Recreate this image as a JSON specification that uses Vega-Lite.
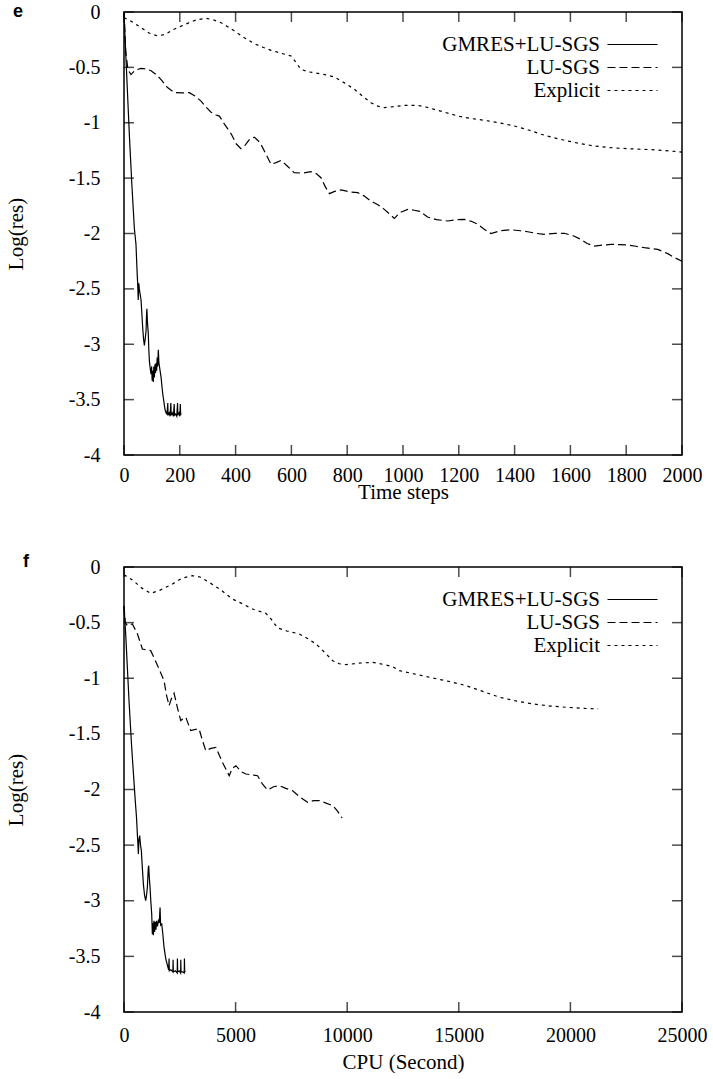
{
"$schema": "https://vega.github.io/schema/vega-lite/v6.json",
"padding": {"left": 4, "top": 1, "right": 0, "bottom": 0},
"background": "white",
"spacing": 49,
"config": {
  "font": "Liberation Serif",
  "view": {"stroke": "black", "strokeWidth": 1.5},
  "axis": {"grid": false, "domain": false, "ticks": false, "tickSize": 0, "labelColor": "black", "titleColor": "black", "labelFontSize": 20, "titleFontSize": 21, "titleFontWeight": "normal", "labelFont": "Liberation Serif", "titleFont": "Liberation Serif", "labelOverlap": false},
  "axisY": {"labelPadding": 24, "titlePadding": 42},
  "axisX": {"labelPadding": 10, "titlePadding": -4, "labelFlush": false},
  "legend": {"orient": "top-right", "offset": 22, "padding": 0, "labelFontSize": 21, "labelFont": "Liberation Serif", "labelColor": "black", "labelAlign": "right", "labelOffset": -43, "symbolType": "M-3,0H3", "symbolSize": 278, "symbolStrokeWidth": 1.2, "symbolStrokeColor": "black", "symbolFillColor": "transparent", "rowPadding": 1},
  "title": {"font": "Liberation Sans", "fontSize": 18, "fontWeight": "bold", "anchor": "start", "frame": "group", "color": "black", "baseline": "alphabetic"}
},
"datasets": {
  "stepTicks": [{"v":0},{"v":200},{"v":400},{"v":600},{"v":800},{"v":1000},{"v":1200},{"v":1400},{"v":1600},{"v":1800},{"v":2000}],
  "cpuTicks": [{"v":0},{"v":5000},{"v":10000},{"v":15000},{"v":20000},{"v":25000}],
  "resTicks": [{"v":-4},{"v":-3.5},{"v":-3},{"v":-2.5},{"v":-2},{"v":-1.5},{"v":-1},{"v":-0.5},{"v":0}],
  "top": [
    {"method":"GMRES+LU-SGS","step":0,"res":0},{"method":"GMRES+LU-SGS","step":5,"res":-0.3},{"method":"GMRES+LU-SGS","step":12,"res":-0.7},{"method":"GMRES+LU-SGS","step":20,"res":-1.15},{"method":"GMRES+LU-SGS","step":28,"res":-1.55},{"method":"GMRES+LU-SGS","step":37,"res":-1.95},{"method":"GMRES+LU-SGS","step":43,"res":-2.1},{"method":"GMRES+LU-SGS","step":47,"res":-2.35},{"method":"GMRES+LU-SGS","step":49,"res":-2.45},{"method":"GMRES+LU-SGS","step":51,"res":-2.6},{"method":"GMRES+LU-SGS","step":53,"res":-2.45},{"method":"GMRES+LU-SGS","step":55,"res":-2.5},{"method":"GMRES+LU-SGS","step":58,"res":-2.55},{"method":"GMRES+LU-SGS","step":61,"res":-2.6},{"method":"GMRES+LU-SGS","step":64,"res":-2.72},{"method":"GMRES+LU-SGS","step":67,"res":-2.85},{"method":"GMRES+LU-SGS","step":70,"res":-2.95},{"method":"GMRES+LU-SGS","step":73,"res":-3.01},{"method":"GMRES+LU-SGS","step":76,"res":-2.95},{"method":"GMRES+LU-SGS","step":79,"res":-2.88},{"method":"GMRES+LU-SGS","step":81,"res":-2.72},{"method":"GMRES+LU-SGS","step":82,"res":-2.68},{"method":"GMRES+LU-SGS","step":84,"res":-2.8},{"method":"GMRES+LU-SGS","step":87,"res":-2.9},{"method":"GMRES+LU-SGS","step":89,"res":-3.05},{"method":"GMRES+LU-SGS","step":91,"res":-3.15},{"method":"GMRES+LU-SGS","step":94,"res":-3.22},{"method":"GMRES+LU-SGS","step":97,"res":-3.27},{"method":"GMRES+LU-SGS","step":99,"res":-3.2},{"method":"GMRES+LU-SGS","step":101,"res":-3.33},{"method":"GMRES+LU-SGS","step":103,"res":-3.24},{"method":"GMRES+LU-SGS","step":105,"res":-3.34},{"method":"GMRES+LU-SGS","step":107,"res":-3.2},{"method":"GMRES+LU-SGS","step":109,"res":-3.3},{"method":"GMRES+LU-SGS","step":111,"res":-3.18},{"method":"GMRES+LU-SGS","step":113,"res":-3.26},{"method":"GMRES+LU-SGS","step":115,"res":-3.17},{"method":"GMRES+LU-SGS","step":117,"res":-3.24},{"method":"GMRES+LU-SGS","step":119,"res":-3.12},{"method":"GMRES+LU-SGS","step":121,"res":-3.2},{"method":"GMRES+LU-SGS","step":123,"res":-3.05},{"method":"GMRES+LU-SGS","step":125,"res":-3.16},{"method":"GMRES+LU-SGS","step":127,"res":-3.2},{"method":"GMRES+LU-SGS","step":130,"res":-3.25},{"method":"GMRES+LU-SGS","step":133,"res":-3.3},{"method":"GMRES+LU-SGS","step":136,"res":-3.38},{"method":"GMRES+LU-SGS","step":139,"res":-3.45},{"method":"GMRES+LU-SGS","step":143,"res":-3.52},{"method":"GMRES+LU-SGS","step":147,"res":-3.59},{"method":"GMRES+LU-SGS","step":151,"res":-3.62},{"method":"GMRES+LU-SGS","step":154,"res":-3.63},{"method":"GMRES+LU-SGS","step":157,"res":-3.53},{"method":"GMRES+LU-SGS","step":158,"res":-3.64},{"method":"GMRES+LU-SGS","step":162,"res":-3.62},{"method":"GMRES+LU-SGS","step":165,"res":-3.65},{"method":"GMRES+LU-SGS","step":168,"res":-3.53},{"method":"GMRES+LU-SGS","step":169,"res":-3.64},{"method":"GMRES+LU-SGS","step":173,"res":-3.62},{"method":"GMRES+LU-SGS","step":177,"res":-3.65},{"method":"GMRES+LU-SGS","step":180,"res":-3.54},{"method":"GMRES+LU-SGS","step":181,"res":-3.64},{"method":"GMRES+LU-SGS","step":185,"res":-3.63},{"method":"GMRES+LU-SGS","step":189,"res":-3.65},{"method":"GMRES+LU-SGS","step":192,"res":-3.53},{"method":"GMRES+LU-SGS","step":193,"res":-3.64},{"method":"GMRES+LU-SGS","step":197,"res":-3.62},{"method":"GMRES+LU-SGS","step":200,"res":-3.65},{"method":"GMRES+LU-SGS","step":202,"res":-3.54},{"method":"GMRES+LU-SGS","step":203,"res":-3.64},{"method":"GMRES+LU-SGS","step":204,"res":-3.62},
    {"method":"LU-SGS","step":0,"res":0},{"method":"LU-SGS","step":6,"res":-0.35},{"method":"LU-SGS","step":14,"res":-0.52},{"method":"LU-SGS","step":25,"res":-0.565},{"method":"LU-SGS","step":40,"res":-0.525},{"method":"LU-SGS","step":61,"res":-0.51},{"method":"LU-SGS","step":80,"res":-0.515},{"method":"LU-SGS","step":97,"res":-0.53},{"method":"LU-SGS","step":115,"res":-0.565},{"method":"LU-SGS","step":133,"res":-0.61},{"method":"LU-SGS","step":155,"res":-0.68},{"method":"LU-SGS","step":180,"res":-0.728},{"method":"LU-SGS","step":210,"res":-0.73},{"method":"LU-SGS","step":234,"res":-0.728},{"method":"LU-SGS","step":255,"res":-0.76},{"method":"LU-SGS","step":276,"res":-0.805},{"method":"LU-SGS","step":295,"res":-0.86},{"method":"LU-SGS","step":312,"res":-0.905},{"method":"LU-SGS","step":330,"res":-0.93},{"method":"LU-SGS","step":342,"res":-0.94},{"method":"LU-SGS","step":362,"res":-1.02},{"method":"LU-SGS","step":384,"res":-1.1},{"method":"LU-SGS","step":402,"res":-1.19},{"method":"LU-SGS","step":419,"res":-1.234},{"method":"LU-SGS","step":435,"res":-1.2},{"method":"LU-SGS","step":450,"res":-1.15},{"method":"LU-SGS","step":467,"res":-1.13},{"method":"LU-SGS","step":480,"res":-1.16},{"method":"LU-SGS","step":491,"res":-1.195},{"method":"LU-SGS","step":510,"res":-1.29},{"method":"LU-SGS","step":527,"res":-1.375},{"method":"LU-SGS","step":545,"res":-1.36},{"method":"LU-SGS","step":563,"res":-1.34},{"method":"LU-SGS","step":585,"res":-1.39},{"method":"LU-SGS","step":610,"res":-1.45},{"method":"LU-SGS","step":640,"res":-1.455},{"method":"LU-SGS","step":670,"res":-1.442},{"method":"LU-SGS","step":690,"res":-1.46},{"method":"LU-SGS","step":706,"res":-1.496},{"method":"LU-SGS","step":720,"res":-1.57},{"method":"LU-SGS","step":736,"res":-1.64},{"method":"LU-SGS","step":755,"res":-1.62},{"method":"LU-SGS","step":778,"res":-1.607},{"method":"LU-SGS","step":810,"res":-1.625},{"method":"LU-SGS","step":838,"res":-1.631},{"method":"LU-SGS","step":860,"res":-1.66},{"method":"LU-SGS","step":885,"res":-1.707},{"method":"LU-SGS","step":910,"res":-1.74},{"method":"LU-SGS","step":933,"res":-1.782},{"method":"LU-SGS","step":950,"res":-1.82},{"method":"LU-SGS","step":969,"res":-1.863},{"method":"LU-SGS","step":990,"res":-1.81},{"method":"LU-SGS","step":1017,"res":-1.782},{"method":"LU-SGS","step":1040,"res":-1.79},{"method":"LU-SGS","step":1060,"res":-1.8},{"method":"LU-SGS","step":1088,"res":-1.851},{"method":"LU-SGS","step":1120,"res":-1.875},{"method":"LU-SGS","step":1160,"res":-1.887},{"method":"LU-SGS","step":1190,"res":-1.875},{"method":"LU-SGS","step":1220,"res":-1.872},{"method":"LU-SGS","step":1245,"res":-1.89},{"method":"LU-SGS","step":1268,"res":-1.917},{"method":"LU-SGS","step":1290,"res":-1.96},{"method":"LU-SGS","step":1315,"res":-2.0},{"method":"LU-SGS","step":1350,"res":-1.975},{"method":"LU-SGS","step":1387,"res":-1.966},{"method":"LU-SGS","step":1420,"res":-1.975},{"method":"LU-SGS","step":1447,"res":-1.984},{"method":"LU-SGS","step":1480,"res":-2.0},{"method":"LU-SGS","step":1506,"res":-2.007},{"method":"LU-SGS","step":1545,"res":-1.998},{"method":"LU-SGS","step":1578,"res":-1.998},{"method":"LU-SGS","step":1610,"res":-2.02},{"method":"LU-SGS","step":1638,"res":-2.053},{"method":"LU-SGS","step":1660,"res":-2.09},{"method":"LU-SGS","step":1686,"res":-2.113},{"method":"LU-SGS","step":1715,"res":-2.105},{"method":"LU-SGS","step":1746,"res":-2.098},{"method":"LU-SGS","step":1775,"res":-2.1},{"method":"LU-SGS","step":1805,"res":-2.104},{"method":"LU-SGS","step":1835,"res":-2.115},{"method":"LU-SGS","step":1865,"res":-2.128},{"method":"LU-SGS","step":1913,"res":-2.143},{"method":"LU-SGS","step":1949,"res":-2.182},{"method":"LU-SGS","step":1975,"res":-2.22},{"method":"LU-SGS","step":2000,"res":-2.25},
    {"method":"Explicit","step":0,"res":-0.05},{"method":"Explicit","step":30,"res":-0.09},{"method":"Explicit","step":60,"res":-0.14},{"method":"Explicit","step":90,"res":-0.19},{"method":"Explicit","step":121,"res":-0.217},{"method":"Explicit","step":150,"res":-0.2},{"method":"Explicit","step":175,"res":-0.16},{"method":"Explicit","step":198,"res":-0.135},{"method":"Explicit","step":230,"res":-0.1},{"method":"Explicit","step":260,"res":-0.07},{"method":"Explicit","step":294,"res":-0.057},{"method":"Explicit","step":320,"res":-0.07},{"method":"Explicit","step":348,"res":-0.097},{"method":"Explicit","step":370,"res":-0.13},{"method":"Explicit","step":395,"res":-0.17},{"method":"Explicit","step":430,"res":-0.23},{"method":"Explicit","step":467,"res":-0.286},{"method":"Explicit","step":500,"res":-0.32},{"method":"Explicit","step":527,"res":-0.346},{"method":"Explicit","step":560,"res":-0.37},{"method":"Explicit","step":599,"res":-0.397},{"method":"Explicit","step":615,"res":-0.45},{"method":"Explicit","step":634,"res":-0.518},{"method":"Explicit","step":660,"res":-0.54},{"method":"Explicit","step":682,"res":-0.548},{"method":"Explicit","step":720,"res":-0.565},{"method":"Explicit","step":754,"res":-0.587},{"method":"Explicit","step":790,"res":-0.64},{"method":"Explicit","step":826,"res":-0.698},{"method":"Explicit","step":855,"res":-0.76},{"method":"Explicit","step":885,"res":-0.819},{"method":"Explicit","step":910,"res":-0.85},{"method":"Explicit","step":933,"res":-0.864},{"method":"Explicit","step":965,"res":-0.855},{"method":"Explicit","step":1005,"res":-0.843},{"method":"Explicit","step":1053,"res":-0.843},{"method":"Explicit","step":1085,"res":-0.86},{"method":"Explicit","step":1112,"res":-0.879},{"method":"Explicit","step":1150,"res":-0.905},{"method":"Explicit","step":1196,"res":-0.939},{"method":"Explicit","step":1240,"res":-0.96},{"method":"Explicit","step":1291,"res":-0.978},{"method":"Explicit","step":1340,"res":-0.998},{"method":"Explicit","step":1399,"res":-1.029},{"method":"Explicit","step":1450,"res":-1.065},{"method":"Explicit","step":1495,"res":-1.104},{"method":"Explicit","step":1540,"res":-1.135},{"method":"Explicit","step":1590,"res":-1.165},{"method":"Explicit","step":1640,"res":-1.19},{"method":"Explicit","step":1686,"res":-1.21},{"method":"Explicit","step":1730,"res":-1.222},{"method":"Explicit","step":1781,"res":-1.231},{"method":"Explicit","step":1840,"res":-1.238},{"method":"Explicit","step":1889,"res":-1.243},{"method":"Explicit","step":1940,"res":-1.252},{"method":"Explicit","step":1985,"res":-1.261},{"method":"Explicit","step":2000,"res":-1.265}
  ],
  "bottom": [
    {"method":"GMRES+LU-SGS","cpu":0,"res":-0.35},{"method":"GMRES+LU-SGS","cpu":75,"res":-0.6},{"method":"GMRES+LU-SGS","cpu":224,"res":-1.2},{"method":"GMRES+LU-SGS","cpu":344,"res":-1.62},{"method":"GMRES+LU-SGS","cpu":494,"res":-2.07},{"method":"GMRES+LU-SGS","cpu":560,"res":-2.25},{"method":"GMRES+LU-SGS","cpu":598,"res":-2.4},{"method":"GMRES+LU-SGS","cpu":625,"res":-2.5},{"method":"GMRES+LU-SGS","cpu":643,"res":-2.58},{"method":"GMRES+LU-SGS","cpu":670,"res":-2.45},{"method":"GMRES+LU-SGS","cpu":703,"res":-2.415},{"method":"GMRES+LU-SGS","cpu":740,"res":-2.5},{"method":"GMRES+LU-SGS","cpu":778,"res":-2.55},{"method":"GMRES+LU-SGS","cpu":820,"res":-2.7},{"method":"GMRES+LU-SGS","cpu":868,"res":-2.85},{"method":"GMRES+LU-SGS","cpu":920,"res":-2.95},{"method":"GMRES+LU-SGS","cpu":972,"res":-3.0},{"method":"GMRES+LU-SGS","cpu":1010,"res":-2.95},{"method":"GMRES+LU-SGS","cpu":1047,"res":-2.88},{"method":"GMRES+LU-SGS","cpu":1090,"res":-2.7},{"method":"GMRES+LU-SGS","cpu":1107,"res":-2.685},{"method":"GMRES+LU-SGS","cpu":1130,"res":-2.78},{"method":"GMRES+LU-SGS","cpu":1167,"res":-2.88},{"method":"GMRES+LU-SGS","cpu":1200,"res":-3.0},{"method":"GMRES+LU-SGS","cpu":1242,"res":-3.12},{"method":"GMRES+LU-SGS","cpu":1270,"res":-3.3},{"method":"GMRES+LU-SGS","cpu":1290,"res":-3.2},{"method":"GMRES+LU-SGS","cpu":1317,"res":-3.31},{"method":"GMRES+LU-SGS","cpu":1340,"res":-3.18},{"method":"GMRES+LU-SGS","cpu":1370,"res":-3.28},{"method":"GMRES+LU-SGS","cpu":1400,"res":-3.19},{"method":"GMRES+LU-SGS","cpu":1430,"res":-3.26},{"method":"GMRES+LU-SGS","cpu":1460,"res":-3.18},{"method":"GMRES+LU-SGS","cpu":1500,"res":-3.23},{"method":"GMRES+LU-SGS","cpu":1541,"res":-3.18},{"method":"GMRES+LU-SGS","cpu":1580,"res":-3.2},{"method":"GMRES+LU-SGS","cpu":1616,"res":-3.06},{"method":"GMRES+LU-SGS","cpu":1640,"res":-3.22},{"method":"GMRES+LU-SGS","cpu":1691,"res":-3.21},{"method":"GMRES+LU-SGS","cpu":1740,"res":-3.3},{"method":"GMRES+LU-SGS","cpu":1795,"res":-3.42},{"method":"GMRES+LU-SGS","cpu":1870,"res":-3.52},{"method":"GMRES+LU-SGS","cpu":1945,"res":-3.58},{"method":"GMRES+LU-SGS","cpu":2000,"res":-3.62},{"method":"GMRES+LU-SGS","cpu":2020,"res":-3.52},{"method":"GMRES+LU-SGS","cpu":2030,"res":-3.63},{"method":"GMRES+LU-SGS","cpu":2100,"res":-3.62},{"method":"GMRES+LU-SGS","cpu":2190,"res":-3.64},{"method":"GMRES+LU-SGS","cpu":2199,"res":-3.53},{"method":"GMRES+LU-SGS","cpu":2210,"res":-3.64},{"method":"GMRES+LU-SGS","cpu":2300,"res":-3.63},{"method":"GMRES+LU-SGS","cpu":2385,"res":-3.65},{"method":"GMRES+LU-SGS","cpu":2393,"res":-3.52},{"method":"GMRES+LU-SGS","cpu":2405,"res":-3.64},{"method":"GMRES+LU-SGS","cpu":2480,"res":-3.63},{"method":"GMRES+LU-SGS","cpu":2537,"res":-3.65},{"method":"GMRES+LU-SGS","cpu":2544,"res":-3.53},{"method":"GMRES+LU-SGS","cpu":2555,"res":-3.64},{"method":"GMRES+LU-SGS","cpu":2640,"res":-3.64},{"method":"GMRES+LU-SGS","cpu":2700,"res":-3.65},{"method":"GMRES+LU-SGS","cpu":2707,"res":-3.52},{"method":"GMRES+LU-SGS","cpu":2720,"res":-3.64},{"method":"GMRES+LU-SGS","cpu":2738,"res":-3.63},
    {"method":"LU-SGS","cpu":0,"res":-0.35},{"method":"LU-SGS","cpu":60,"res":-0.5},{"method":"LU-SGS","cpu":150,"res":-0.527},{"method":"LU-SGS","cpu":374,"res":-0.512},{"method":"LU-SGS","cpu":600,"res":-0.6},{"method":"LU-SGS","cpu":823,"res":-0.737},{"method":"LU-SGS","cpu":1000,"res":-0.745},{"method":"LU-SGS","cpu":1197,"res":-0.752},{"method":"LU-SGS","cpu":1400,"res":-0.84},{"method":"LU-SGS","cpu":1571,"res":-0.917},{"method":"LU-SGS","cpu":1795,"res":-1.022},{"method":"LU-SGS","cpu":1900,"res":-1.15},{"method":"LU-SGS","cpu":2020,"res":-1.247},{"method":"LU-SGS","cpu":2130,"res":-1.18},{"method":"LU-SGS","cpu":2244,"res":-1.135},{"method":"LU-SGS","cpu":2400,"res":-1.27},{"method":"LU-SGS","cpu":2544,"res":-1.381},{"method":"LU-SGS","cpu":2650,"res":-1.36},{"method":"LU-SGS","cpu":2769,"res":-1.351},{"method":"LU-SGS","cpu":2993,"res":-1.471},{"method":"LU-SGS","cpu":3200,"res":-1.46},{"method":"LU-SGS","cpu":3366,"res":-1.456},{"method":"LU-SGS","cpu":3500,"res":-1.55},{"method":"LU-SGS","cpu":3666,"res":-1.651},{"method":"LU-SGS","cpu":3900,"res":-1.63},{"method":"LU-SGS","cpu":4115,"res":-1.621},{"method":"LU-SGS","cpu":4413,"res":-1.756},{"method":"LU-SGS","cpu":4713,"res":-1.876},{"method":"LU-SGS","cpu":4850,"res":-1.81},{"method":"LU-SGS","cpu":5013,"res":-1.786},{"method":"LU-SGS","cpu":5250,"res":-1.84},{"method":"LU-SGS","cpu":5462,"res":-1.861},{"method":"LU-SGS","cpu":5984,"res":-1.876},{"method":"LU-SGS","cpu":6200,"res":-1.95},{"method":"LU-SGS","cpu":6432,"res":-2.004},{"method":"LU-SGS","cpu":6700,"res":-1.975},{"method":"LU-SGS","cpu":6957,"res":-1.966},{"method":"LU-SGS","cpu":7250,"res":-1.99},{"method":"LU-SGS","cpu":7555,"res":-2.011},{"method":"LU-SGS","cpu":7900,"res":-2.07},{"method":"LU-SGS","cpu":8229,"res":-2.115},{"method":"LU-SGS","cpu":8500,"res":-2.1},{"method":"LU-SGS","cpu":8752,"res":-2.1},{"method":"LU-SGS","cpu":9352,"res":-2.145},{"method":"LU-SGS","cpu":9550,"res":-2.19},{"method":"LU-SGS","cpu":9771,"res":-2.256},
    {"method":"Explicit","cpu":0,"res":-0.07},{"method":"Explicit","cpu":400,"res":-0.12},{"method":"Explicit","cpu":800,"res":-0.19},{"method":"Explicit","cpu":1197,"res":-0.237},{"method":"Explicit","cpu":1600,"res":-0.21},{"method":"Explicit","cpu":2169,"res":-0.153},{"method":"Explicit","cpu":2600,"res":-0.1},{"method":"Explicit","cpu":3067,"res":-0.078},{"method":"Explicit","cpu":3400,"res":-0.09},{"method":"Explicit","cpu":3815,"res":-0.138},{"method":"Explicit","cpu":4300,"res":-0.2},{"method":"Explicit","cpu":4862,"res":-0.288},{"method":"Explicit","cpu":5300,"res":-0.33},{"method":"Explicit","cpu":5760,"res":-0.378},{"method":"Explicit","cpu":6359,"res":-0.417},{"method":"Explicit","cpu":6600,"res":-0.47},{"method":"Explicit","cpu":6882,"res":-0.548},{"method":"Explicit","cpu":7300,"res":-0.575},{"method":"Explicit","cpu":7855,"res":-0.602},{"method":"Explicit","cpu":8200,"res":-0.64},{"method":"Explicit","cpu":8603,"res":-0.692},{"method":"Explicit","cpu":9000,"res":-0.77},{"method":"Explicit","cpu":9352,"res":-0.842},{"method":"Explicit","cpu":9650,"res":-0.87},{"method":"Explicit","cpu":9950,"res":-0.878},{"method":"Explicit","cpu":10500,"res":-0.865},{"method":"Explicit","cpu":11145,"res":-0.857},{"method":"Explicit","cpu":11600,"res":-0.875},{"method":"Explicit","cpu":12043,"res":-0.896},{"method":"Explicit","cpu":12343,"res":-0.932},{"method":"Explicit","cpu":13165,"res":-0.968},{"method":"Explicit","cpu":13838,"res":-0.998},{"method":"Explicit","cpu":14600,"res":-1.03},{"method":"Explicit","cpu":15336,"res":-1.067},{"method":"Explicit","cpu":16100,"res":-1.12},{"method":"Explicit","cpu":16831,"res":-1.171},{"method":"Explicit","cpu":17600,"res":-1.205},{"method":"Explicit","cpu":18326,"res":-1.231},{"method":"Explicit","cpu":19100,"res":-1.25},{"method":"Explicit","cpu":19825,"res":-1.261},{"method":"Explicit","cpu":20500,"res":-1.27},{"method":"Explicit","cpu":21243,"res":-1.276}
  ]
},
"vconcat": [
  {
    "title": {"text": "e", "offset": -19, "dx": -111},
    "width": 558, "height": 443,
    "layer": [
      {"data": {"name": "top"},
       "mark": {"type": "line", "strokeWidth": 1.2, "color": "black"},
       "encoding": {
         "x": {"field": "step", "type": "quantitative", "scale": {"domain": [0, 2000], "nice": false}, "axis": {"title": "Time steps", "values": [0,200,400,600,800,1000,1200,1400,1600,1800,2000], "format": "d"}},
         "y": {"field": "res", "type": "quantitative", "scale": {"domain": [-4, 0], "nice": false}, "axis": {"title": "Log(res)", "values": [-4,-3.5,-3,-2.5,-2,-1.5,-1,-0.5,0], "labelExpr": "toString(datum.value)"}},
         "strokeDash": {"field": "method", "type": "nominal", "scale": {"domain": ["GMRES+LU-SGS", "LU-SGS", "Explicit"], "range": [[1, 0], [8, 4], [3, 4]]}, "legend": {"title": null}}
       }},
      {"data": {"name": "stepTicks"},
       "mark": {"type": "tick", "orient": "vertical", "size": 10, "thickness": 1.5, "color": "black", "yOffset": -5},
       "encoding": {"x": {"field": "v", "type": "quantitative", "scale": {"domain": [0, 2000], "nice": false}, "axis": null}, "y": {"datum": -4, "type": "quantitative", "scale": {"domain": [-4, 0], "nice": false}, "axis": null}}},
      {"data": {"name": "stepTicks"},
       "mark": {"type": "tick", "orient": "vertical", "size": 10, "thickness": 1.5, "color": "black", "yOffset": 5},
       "encoding": {"x": {"field": "v", "type": "quantitative", "scale": {"domain": [0, 2000], "nice": false}, "axis": null}, "y": {"datum": 0, "type": "quantitative", "scale": {"domain": [-4, 0], "nice": false}, "axis": null}}},
      {"data": {"name": "resTicks"},
       "mark": {"type": "tick", "orient": "horizontal", "size": 10, "thickness": 1.5, "color": "black", "xOffset": 5},
       "encoding": {"x": {"datum": 0, "type": "quantitative", "scale": {"domain": [0, 2000], "nice": false}, "axis": null}, "y": {"field": "v", "type": "quantitative", "scale": {"domain": [-4, 0], "nice": false}, "axis": null}}},
      {"data": {"name": "resTicks"},
       "mark": {"type": "tick", "orient": "horizontal", "size": 10, "thickness": 1.5, "color": "black", "xOffset": -5},
       "encoding": {"x": {"datum": 2000, "type": "quantitative", "scale": {"domain": [0, 2000], "nice": false}, "axis": null}, "y": {"field": "v", "type": "quantitative", "scale": {"domain": [-4, 0], "nice": false}, "axis": null}}}
    ],
    "resolve": {"axis": {"x": "independent", "y": "independent"}}
  },
  {
    "title": {"text": "f", "offset": -14, "dx": -101},
    "width": 558, "height": 445,
    "layer": [
      {"data": {"name": "bottom"},
       "mark": {"type": "line", "strokeWidth": 1.2, "color": "black"},
       "encoding": {
         "x": {"field": "cpu", "type": "quantitative", "scale": {"domain": [0, 25000], "nice": false}, "axis": {"title": "CPU (Second)", "labelPadding": 13, "titlePadding": 6, "values": [0,5000,10000,15000,20000,25000], "format": "d"}},
         "y": {"field": "res", "type": "quantitative", "scale": {"domain": [-4, 0], "nice": false}, "axis": {"title": "Log(res)", "values": [-4,-3.5,-3,-2.5,-2,-1.5,-1,-0.5,0], "labelExpr": "toString(datum.value)"}},
         "strokeDash": {"field": "method", "type": "nominal", "scale": {"domain": ["GMRES+LU-SGS", "LU-SGS", "Explicit"], "range": [[1, 0], [8, 4], [3, 4]]}, "legend": {"title": null}}
       }},
      {"data": {"name": "cpuTicks"},
       "mark": {"type": "tick", "orient": "vertical", "size": 10, "thickness": 1.5, "color": "black", "yOffset": -5},
       "encoding": {"x": {"field": "v", "type": "quantitative", "scale": {"domain": [0, 25000], "nice": false}, "axis": null}, "y": {"datum": -4, "type": "quantitative", "scale": {"domain": [-4, 0], "nice": false}, "axis": null}}},
      {"data": {"name": "cpuTicks"},
       "mark": {"type": "tick", "orient": "vertical", "size": 10, "thickness": 1.5, "color": "black", "yOffset": 5},
       "encoding": {"x": {"field": "v", "type": "quantitative", "scale": {"domain": [0, 25000], "nice": false}, "axis": null}, "y": {"datum": 0, "type": "quantitative", "scale": {"domain": [-4, 0], "nice": false}, "axis": null}}},
      {"data": {"name": "resTicks"},
       "mark": {"type": "tick", "orient": "horizontal", "size": 10, "thickness": 1.5, "color": "black", "xOffset": 5},
       "encoding": {"x": {"datum": 0, "type": "quantitative", "scale": {"domain": [0, 25000], "nice": false}, "axis": null}, "y": {"field": "v", "type": "quantitative", "scale": {"domain": [-4, 0], "nice": false}, "axis": null}}},
      {"data": {"name": "resTicks"},
       "mark": {"type": "tick", "orient": "horizontal", "size": 10, "thickness": 1.5, "color": "black", "xOffset": -5},
       "encoding": {"x": {"datum": 25000, "type": "quantitative", "scale": {"domain": [0, 25000], "nice": false}, "axis": null}, "y": {"field": "v", "type": "quantitative", "scale": {"domain": [-4, 0], "nice": false}, "axis": null}}}
    ],
    "resolve": {"axis": {"x": "independent", "y": "independent"}}
  }
],
"resolve": {"scale": {"strokeDash": "independent"}, "legend": {"strokeDash": "independent"}}
}
